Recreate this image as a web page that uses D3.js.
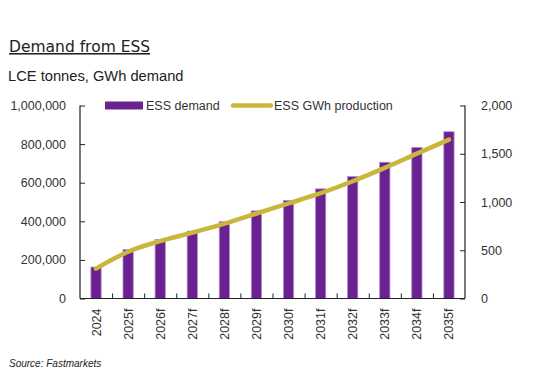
<!DOCTYPE html>
<html><head><meta charset="utf-8">
<script src="https://cdn.jsdelivr.net/npm/d3@7"></script>
<style>body{margin:0;background:#fff}svg{display:block}</style>
</head><body>
<script>
const categories = ["2024","2025f","2026f","2027f","2028f","2029f","2030f","2031f","2032f","2033f","2034f","2035f"];
const essDemand = [163000,253000,306000,349000,398000,454000,508000,568000,632000,706000,783000,864000];
const gwhProduction = [310,485,595,682,775,881,985,1091,1215,1353,1501,1646];
const leftTicks = [0,200000,400000,600000,800000,1000000];
const rightTicks = [0,500,1000,1500,2000];

const W=545,H=380;
const svg=d3.select("body").append("svg").attr("width",W).attr("height",H);
const m={l:80,r:465,t:105.5,b:298.5};
const font="Liberation Sans, Arial, sans-serif";
const txt="#333";

svg.append("text").attr("x",9).attr("y",52).attr("font-family","DejaVu Sans, sans-serif")
  .attr("font-size",15.5).attr("fill","#222").attr("text-decoration","underline").text("Demand from ESS");
svg.append("text").attr("x",8).attr("y",81).attr("font-family",font)
  .attr("font-size",14.7).attr("fill","#222").text("LCE tonnes, GWh demand");

const x=d3.scaleBand().domain(categories).range([m.l,m.r]).paddingInner(0.68).paddingOuter(0.34);
const yL=d3.scaleLinear().domain([0,1000000]).range([m.b,m.t]);
const yR=d3.scaleLinear().domain([0,2000]).range([m.b,m.t]);

svg.append("g").selectAll("rect").data(categories).join("rect")
  .attr("x",d=>x(d)).attr("width",x.bandwidth())
  .attr("y",(d,i)=>yL(essDemand[i])).attr("height",(d,i)=>m.b-yL(essDemand[i]))
  .attr("fill","#6a2290").attr("stroke","#b58fcf").attr("stroke-width",0.8);

const line=d3.line().x((d,i)=>x(categories[i])+x.bandwidth()/2).y(d=>yR(d)).curve(d3.curveMonotoneX);
svg.append("path").datum(gwhProduction).attr("d",line).attr("fill","none")
  .attr("stroke","#c9b63a").attr("stroke-width",4.5).attr("stroke-linecap","round");

// axes
const gl=svg.append("g").attr("transform",`translate(${m.l},0)`)
  .call(d3.axisLeft(yL).tickValues(leftTicks).tickSize(-5).tickPadding(14).tickFormat(d3.format(",")));
const gr=svg.append("g").attr("transform",`translate(${m.r},0)`)
  .call(d3.axisRight(yR).tickValues(rightTicks).tickSize(-5).tickPadding(16).tickFormat(d3.format(",")));
const bounds=d3.range(1,categories.length).map(i=>m.l+i*x.step());
const xb=d3.scaleLinear().domain([m.l,m.r]).range([m.l,m.r]);
const gx=svg.append("g").attr("transform",`translate(0,${m.b})`)
  .call(d3.axisBottom(xb).tickValues(bounds).tickSize(-5).tickFormat(""));
[gl,gr,gx].forEach(g=>{
  g.select(".domain").attr("stroke","#222").attr("stroke-width",1.2);
  g.selectAll(".tick line").attr("stroke","#222");
  g.selectAll("text").attr("font-family",font).attr("font-size",12.5).attr("fill",txt);
});
gl.select(".domain").attr("d",`M0,${m.t}V${m.b}`);
gr.select(".domain").attr("d",`M0,${m.t}V${m.b}`);
gx.select(".domain").attr("d",`M${m.l},0H${m.r}`);

svg.append("g").selectAll("text").data(categories).join("text")
  .attr("transform",d=>`translate(${x(d)+x.bandwidth()/2+4.5},${m.b+10}) rotate(-90)`)
  .attr("text-anchor","end").attr("font-family",font).attr("font-size",12.5).attr("fill",txt).text(d=>d);

// legend
const lg=svg.append("g");
lg.append("rect").attr("x",105).attr("y",101.5).attr("width",38).attr("height",8).attr("fill","#6a2290");
lg.append("text").attr("x",146).attr("y",110).attr("font-family",font).attr("font-size",12.5).attr("fill",txt).text("ESS demand");
lg.append("line").attr("x1",233).attr("x2",271).attr("y1",105.5).attr("y2",105.5).attr("stroke","#c9b63a").attr("stroke-width",4.5).attr("stroke-linecap","round");
lg.append("text").attr("x",274).attr("y",110).attr("font-family",font).attr("font-size",12.5).attr("fill",txt).text("ESS GWh production");

svg.append("text").attr("x",9).attr("y",367).attr("font-family",font).attr("font-style","italic")
  .attr("font-size",10).attr("fill","#222").text("Source: Fastmarkets");
</script>
</body></html>
